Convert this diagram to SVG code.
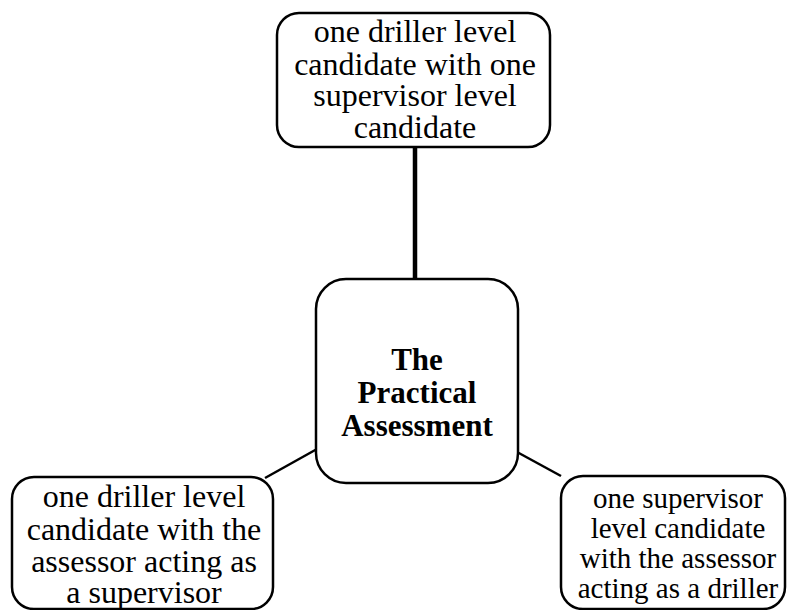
<svg xmlns="http://www.w3.org/2000/svg" width="788" height="610" viewBox="0 0 788 610">
<style>
.box{fill:#fff;stroke:#000;stroke-width:2.5}
.t{font-family:"Liberation Serif","Times New Roman",serif;font-size:32px;fill:#000;text-anchor:middle}
.s{font-size:29px}
.b{font-weight:bold;font-size:31px}
.c{stroke:#000;fill:none}
</style>
<rect width="788" height="610" fill="#fff"/>
<g id="connectors">
<line class="c" x1="415" y1="147" x2="415" y2="280" stroke-width="4.5"/>
<line class="c" x1="265" y1="478" x2="317" y2="449" stroke-width="2.5"/>
<line class="c" x1="517" y1="452" x2="561" y2="476" stroke-width="2.5"/>
</g>
<g id="top">
<rect class="box" x="277" y="13" width="273" height="134" rx="22"/>
<text class="t" x="415" y="42">one driller level</text>
<text class="t" x="415" y="75">candidate with one</text>
<text class="t" x="415" y="106">supervisor level</text>
<text class="t" x="415" y="138">candidate</text>
</g>
<g id="center">
<rect class="box" x="316" y="279" width="202" height="204" rx="30" stroke-width="4"/>
<text class="t b" x="417" y="370">The</text>
<text class="t b" x="417" y="403">Practical</text>
<text class="t b" x="417" y="436">Assessment</text>
</g>
<g id="left">
<rect class="box" x="12" y="477" width="261" height="132" rx="22"/>
<text class="t" x="144" y="507">one driller level</text>
<text class="t" x="144" y="540">candidate with the</text>
<text class="t" x="144" y="572">assessor acting as</text>
<text class="t" x="144" y="603">a supervisor</text>
</g>
<g id="right">
<rect class="box" x="561" y="476" width="224" height="133" rx="22"/>
<text class="t s" x="678" y="508">one supervisor</text>
<text class="t s" x="678" y="538">level candidate</text>
<text class="t s" x="678" y="568">with the assessor</text>
<text class="t s" x="678" y="598">acting as a driller</text>
</g>
</svg>
